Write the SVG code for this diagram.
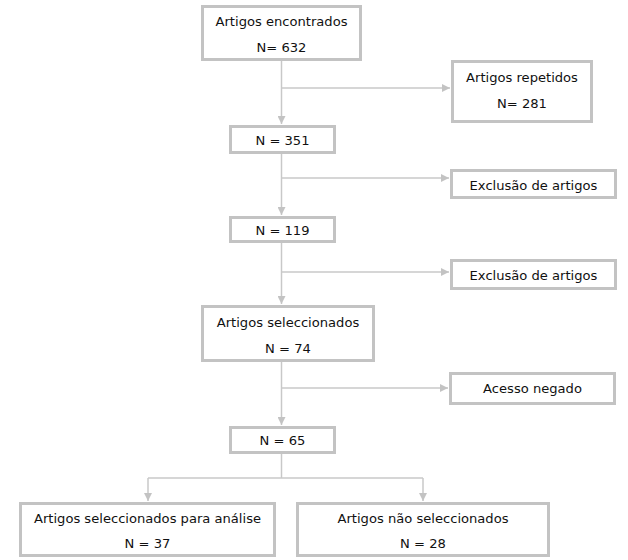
<svg xmlns="http://www.w3.org/2000/svg" width="628" height="560" viewBox="0 0 628 560">
<style>
.box{fill:#fff;stroke:#c3c3c3;stroke-width:3}
.t{font-family:"DejaVu Sans",Verdana,sans-serif;font-size:13.1px;fill:#111;text-anchor:middle;dominant-baseline:central}
.ln{fill:none;stroke:#c8c8c8;stroke-width:1.5}
</style>
<defs>
<marker id="ah" viewBox="0 0 10 10" refX="10" refY="5" markerWidth="8" markerHeight="8" markerUnits="userSpaceOnUse" orient="auto">
<path d="M0,0 L10,5 L0,10 z" fill="#c3c3c3"/>
</marker>
</defs>
<rect width="628" height="560" fill="#fff"/>
<g id="connectors">
<path class="ln" d="M281.5,61 V124" marker-end="url(#ah)"/>
<path class="ln" d="M281.5,154 V215" marker-end="url(#ah)"/>
<path class="ln" d="M281.5,243 V304" marker-end="url(#ah)"/>
<path class="ln" d="M281.5,362 V425" marker-end="url(#ah)"/>
<path class="ln" d="M281.5,88 H450" marker-end="url(#ah)"/>
<path class="ln" d="M281.5,178 H449" marker-end="url(#ah)"/>
<path class="ln" d="M281.5,272 H449" marker-end="url(#ah)"/>
<path class="ln" d="M281.5,388 H448" marker-end="url(#ah)"/>
<path class="ln" d="M281.5,454 V478"/>
<path class="ln" d="M148,478 H423"/>
<path class="ln" d="M148,478 V501" marker-end="url(#ah)"/>
<path class="ln" d="M423,478 V501" marker-end="url(#ah)"/>
</g>
<g id="n1"><rect class="box" x="202.5" y="6.5" width="158" height="53"/><text class="t" x="281.5" y="21">Artigos encontrados</text><text class="t" x="281.5" y="47">N= 632</text></g>
<g id="n2"><rect class="box" x="452.5" y="61.5" width="139" height="60"/><text class="t" x="522" y="77">Artigos repetidos</text><text class="t" x="522" y="103">N= 281</text></g>
<g id="n3"><rect class="box" x="230.5" y="126.5" width="104" height="26"/><text class="t" x="282.5" y="140">N = 351</text></g>
<g id="n4"><rect class="box" x="451.5" y="170.5" width="164" height="27"/><text class="t" x="533.5" y="185">Exclusão de artigos</text></g>
<g id="n5"><rect class="box" x="230.5" y="217.5" width="104" height="24"/><text class="t" x="282.5" y="230">N = 119</text></g>
<g id="n6"><rect class="box" x="451.5" y="260.5" width="164" height="28"/><text class="t" x="533.5" y="275">Exclusão de artigos</text></g>
<g id="n7"><rect class="box" x="202.5" y="306.5" width="171" height="54"/><text class="t" x="288" y="322">Artigos seleccionados</text><text class="t" x="288" y="348">N = 74</text></g>
<g id="n8"><rect class="box" x="450.5" y="373.5" width="164" height="30"/><text class="t" x="532.5" y="388.5">Acesso negado</text></g>
<g id="n9"><rect class="box" x="230.5" y="427.5" width="104" height="25"/><text class="t" x="282.5" y="440">N = 65</text></g>
<g id="n10"><rect class="box" x="20.5" y="503.5" width="254" height="52"/><text class="t" x="147.5" y="518">Artigos seleccionados para análise</text><text class="t" x="147.5" y="543">N = 37</text></g>
<g id="n11"><rect class="box" x="297.5" y="503.5" width="251" height="52"/><text class="t" x="423" y="518">Artigos não seleccionados</text><text class="t" x="423" y="543">N = 28</text></g>
</svg>
